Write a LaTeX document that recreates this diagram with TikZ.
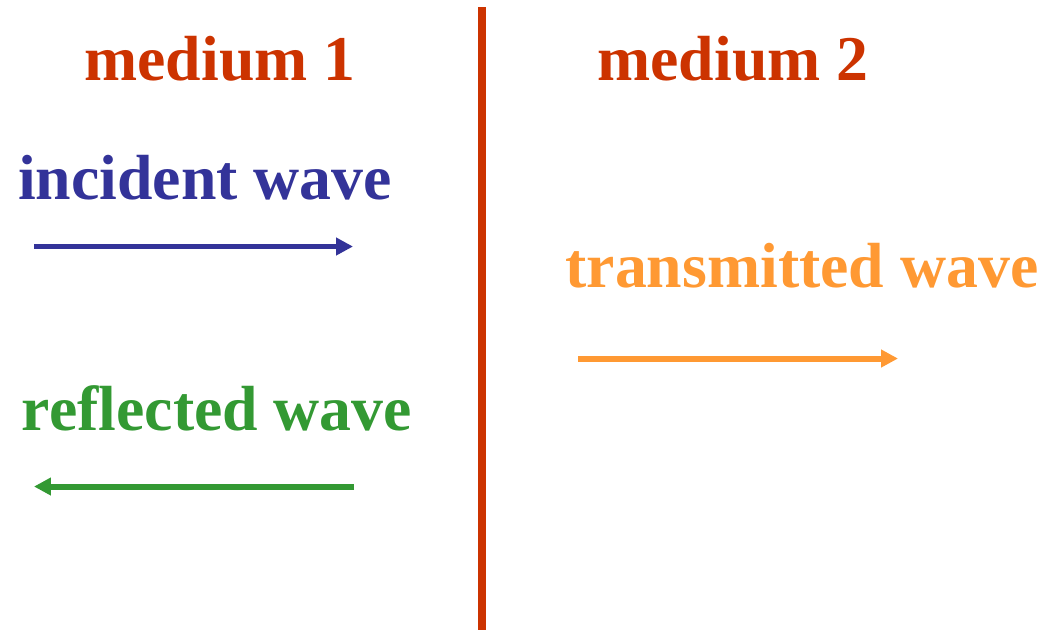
\documentclass[tikz,border=0pt]{standalone}
\usepackage{fontspec}
\setmainfont{Liberation Serif}
\usetikzlibrary{arrows.meta}
\definecolor{boundary}{HTML}{CC3300}
\definecolor{incid}{HTML}{333399}
\definecolor{refl}{HTML}{339933}
\definecolor{trans}{HTML}{FF9933}
\tikzset{
  every node/.style={font=\fontsize{36.3}{40}\selectfont\bfseries,inner sep=0pt,anchor=base},
  wave/.style={line width=3.4pt,-{Triangle[length=0.34cm,width=0.34cm]}},
  interface/.style={draw=boundary,line width=4.5pt}}
\begin{document}
\begin{tikzpicture}[x=0.02cm,y=-0.02cm]
\useasboundingbox (0,0) rectangle (1043,630);
% The two media and the boundary between them.
\draw[interface] (482,7) coordinate (top) -- (482,630) coordinate (bottom);
\node[text=boundary] (med1) at (220,80) {medium 1};\node[text=boundary] (med2) at (733,80) {medium 2};
% Medium 1: incident and reflected waves.
\node[text=incid] (inc) at (205,199) {incident wave};
\coordinate (inca) at (34,246.5);\coordinate (incb) at (353,246.5);\draw[wave,incid] (inca) -- (incb);
\node[text=refl] (ref) at (217,430) {reflected wave};
\coordinate (refa) at (354,486.5);\coordinate (refb) at (34,486.5);\draw[wave,refl] (refa) -- (refb);
% Medium 2: transmitted wave.
\node[text=trans] (tra) at (802,287) {transmitted wave};
\coordinate (traa) at (578,358.5);\coordinate (trab) at (898,358.5);\draw[wave,trans] (traa) -- (trab);
\end{tikzpicture}
\end{document}
